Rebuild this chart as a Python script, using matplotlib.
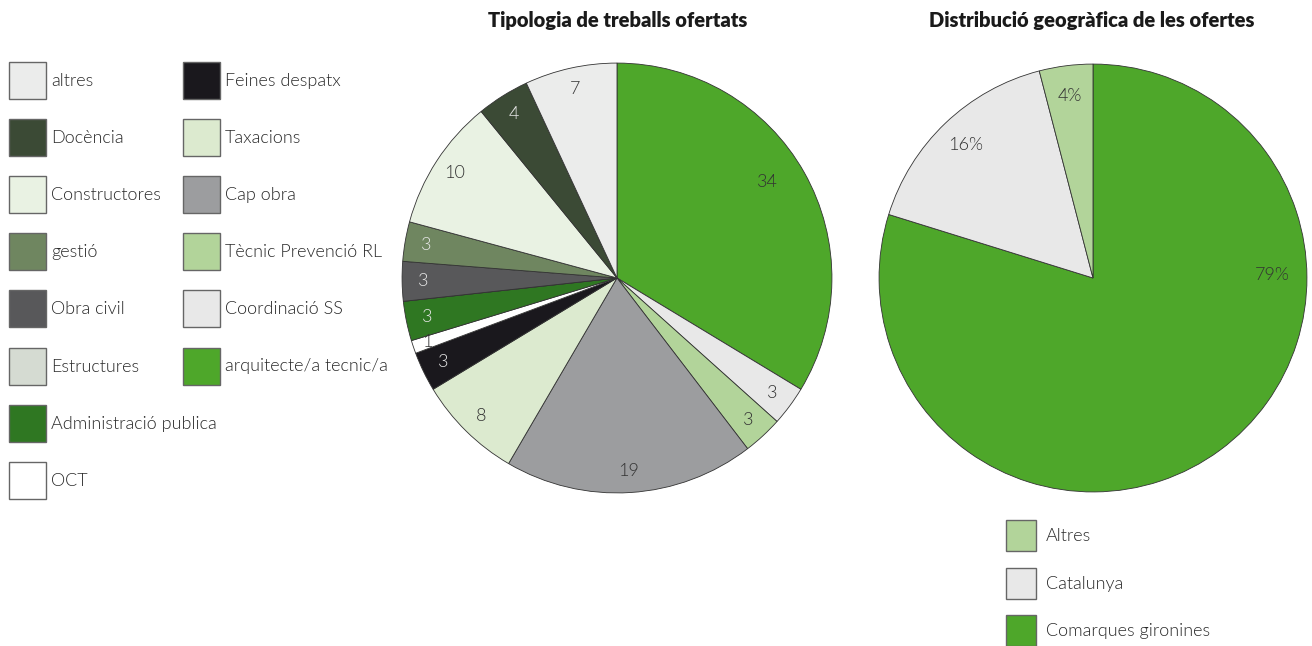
import matplotlib.pyplot as plt
from matplotlib.patches import Rectangle
import numpy as np

# ---- data: left pie (clockwise from top) ----
tipus = ['arquitecte/a tecnic/a', 'Coordinació SS', 'Tècnic Prevenció RL', 'Cap obra',
         'Taxacions', 'Feines despatx', 'OCT', 'Administració publica', 'Estructures',
         'Obra civil', 'gestió', 'Constructores', 'Docència', 'altres']
ofertes = [34, 3, 3, 19, 8, 3, 1, 3, 0, 3, 3, 10, 4, 7]
colors_tipus = ['#4ea72a', '#e8e8e8', '#b2d49a', '#9c9d9f', '#dceacf', '#1a181d', '#ffffff',
                '#2f7722', '#d5dbd2', '#58585a', '#6f8660', '#e9f2e3', '#3b4a35', '#ebeceb']
dark_tipus = ['Feines despatx', 'Administració publica', 'Obra civil', 'gestió', 'Docència']

# legend layout (as in the reference)
legend_col1 = ['altres', 'Docència', 'Constructores', 'gestió', 'Obra civil',
               'Estructures', 'Administració publica', 'OCT']
legend_col2 = ['Feines despatx', 'Taxacions', 'Cap obra', 'Tècnic Prevenció RL',
               'Coordinació SS', 'arquitecte/a tecnic/a']

# ---- data: right pie ----
zones = ['Comarques gironines', 'Catalunya', 'Altres']
percent = [79, 16, 4]
colors_zones = ['#4ea72a', '#e8e8e8', '#b2d49a']
legend_zones = ['Altres', 'Catalunya', 'Comarques gironines']

W, H = 1312, 646
FONT = 'Lato'
LW = 300  # light weight for body text
TXT = '#2a2a2a'
fig = plt.figure(figsize=(W / 100, H / 100), dpi=100)
fig.patch.set_facecolor('white')


def pie_axes(cx, cy, r):
    return fig.add_axes([(cx - r) / W, (H - cy - r) / H, 2 * r / W, 2 * r / H])


wedge_style = dict(edgecolor='#333333', linewidth=0.6)

# left pie
ax1 = pie_axes(617, 278, 216)
wedges1, _ = ax1.pie(ofertes, colors=colors_tipus, startangle=90, counterclock=False,
                     wedgeprops=wedge_style)
for w, name, v in zip(wedges1, tipus, ofertes):
    if v == 0:
        continue
    mid = (w.theta1 + w.theta2) / 2
    d = 0.9
    if name == 'arquitecte/a tecnic/a':
        d, mid = 0.83, 32.5
    if name == 'OCT':
        d = 0.93
    ang = np.deg2rad(mid)
    col = '#e6e6e6' if name in dark_tipus else '#333333'
    ax1.text(d * np.cos(ang), d * np.sin(ang), str(v), ha='center', va='center',
             fontsize=13, color=col, family=FONT, fontweight=LW)
ax1.set_xlim(-1.005, 1.005)
ax1.set_ylim(-1.005, 1.005)
ax1.set_aspect('equal')
ax1.axis('off')

# right pie
ax2 = pie_axes(1093, 278, 215)
wedges2, _ = ax2.pie(percent, colors=colors_zones, startangle=90, counterclock=False,
                     wedgeprops=wedge_style)
for w, name, v in zip(wedges2, zones, percent):
    mid = (w.theta1 + w.theta2) / 2
    d = 0.86
    if name == 'Comarques gironines':
        d, mid = 0.84, 1.0
    ang = np.deg2rad(mid)
    ax2.text(d * np.cos(ang), d * np.sin(ang), f'{v}%', ha='center', va='center',
             fontsize=13, color='#333333', family=FONT, fontweight=LW)
ax2.set_xlim(-1.005, 1.005)
ax2.set_ylim(-1.005, 1.005)
ax2.set_aspect('equal')
ax2.axis('off')

# titles
fig.text(618 / W, 1 - 21 / H, 'Tipologia de treballs ofertats', ha='center', va='center',
         fontsize=14.5, fontweight='heavy', family=FONT, color='#1a1a1a')
fig.text(1092 / W, 1 - 21 / H, 'Distribució geogràfica de les ofertes', ha='center',
         va='center', fontsize=14.5, fontweight='heavy', family=FONT, color='#1a1a1a')

# legends drawn in pixel coordinates
lg = fig.add_axes([0, 0, 1, 1])
lg.set_xlim(0, W)
lg.set_ylim(H, 0)
lg.axis('off')
lg.patch.set_alpha(0)

col_of = dict(zip(tipus, colors_tipus))
for x0, names in [(9, legend_col1), (183, legend_col2)]:
    for i, name in enumerate(names):
        y0 = 62 + i * 57.1
        lg.add_patch(Rectangle((x0, y0), 37, 37, facecolor=col_of[name],
                               edgecolor='#666666', linewidth=1))
        lg.text(x0 + 42, y0 + 19, name, ha='left', va='center', fontsize=13,
                color=TXT, family=FONT, fontweight=LW)

zcol = dict(zip(zones, colors_zones))
for i, name in enumerate(legend_zones):
    y0 = 520 + i * 47.5
    lg.add_patch(Rectangle((1006, y0), 30, 31, facecolor=zcol[name],
                           edgecolor='#666666', linewidth=1))
    lg.text(1046, y0 + 16, name, ha='left', va='center', fontsize=13,
            color=TXT, family=FONT, fontweight=LW)

fig.savefig('out.png', dpi=100)
